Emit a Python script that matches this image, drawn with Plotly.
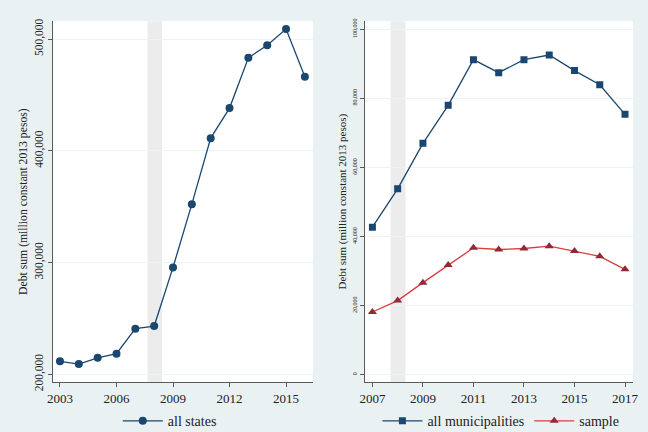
import plotly.graph_objects as go

# Left panel: all states
years_states = [2003, 2004, 2005, 2006, 2007, 2008, 2009, 2010, 2011, 2012, 2013, 2014, 2015, 2016]
debt_states = [211600, 209200, 214800, 218400, 240800, 243200, 295700, 352300, 411400, 438300, 483300, 494600, 509000, 466300]

# Right panel: municipalities
years_mun = [2007, 2008, 2009, 2010, 2011, 2012, 2013, 2014, 2015, 2016, 2017]
debt_all_mun = [42700, 53800, 66950, 77950, 91170, 87400, 91170, 92500, 88000, 83900, 75340]
debt_sample = [18150, 21450, 26650, 31750, 36730, 36240, 36530, 37200, 35800, 34270, 30500]

band_left = [2007.65, 2008.42]
band_right = [2007.72, 2008.31]

BG = "#E9F1F3"
NAVY = "#1a476f"
RED_LINE = "#dc3b3b"
RED_MARK = "#8e2b35"
FONT = "Liberation Serif"
ytitle = "Debt sum (million constant 2013 pesos)"

fig = go.Figure()

fig.add_trace(go.Scatter(x=years_states, y=debt_states, mode="lines+markers",
                         name="all states", xaxis="x", yaxis="y",
                         line=dict(color=NAVY, width=1.3),
                         marker=dict(color=NAVY, size=8, symbol="circle"),
                         legend="legend"))
fig.add_trace(go.Scatter(x=years_mun, y=debt_all_mun, mode="lines+markers",
                         name="all municipalities", xaxis="x2", yaxis="y2",
                         line=dict(color=NAVY, width=1.3),
                         marker=dict(color=NAVY, size=7, symbol="square"),
                         legend="legend2"))
fig.add_trace(go.Scatter(x=years_mun, y=debt_sample, mode="lines+markers",
                         name="sample", xaxis="x2", yaxis="y2",
                         line=dict(color=RED_LINE, width=1.3),
                         marker=dict(color=RED_MARK, size=8, symbol="triangle-up"),
                         legend="legend2"))

fig.add_shape(type="rect", xref="x", yref="y domain", x0=band_left[0], x1=band_left[1],
              y0=0, y1=1, fillcolor="#ececec", line=dict(width=0), layer="below")
fig.add_shape(type="rect", xref="x2", yref="y2 domain", x0=band_right[0], x1=band_right[1],
              y0=0, y1=1, fillcolor="#ececec", line=dict(width=0), layer="below")

axis_common = dict(showline=True, linecolor="#5a5a5a", linewidth=1, ticks="outside",
                   ticklen=4, tickcolor="#5a5a5a", zeroline=False, mirror=False)

fig.update_layout(
    width=648, height=432,
    margin=dict(l=0, r=0, t=0, b=0, autoexpand=False),
    paper_bgcolor=BG, plot_bgcolor="white",
    font=dict(family=FONT, color="#222222"),
    xaxis=dict(domain=[0.0818, 0.483], range=[2002.63, 2016.43],
               tickvals=[2003, 2006, 2009, 2012, 2015], showgrid=False,
               tickfont=dict(size=13), anchor="y", **axis_common),
    yaxis=dict(domain=[0.1157, 0.951], range=[193100, 516100],
               tickvals=[200000, 300000, 400000, 500000], tickformat=",d",
               tickangle=-90, tickfont=dict(size=11.5),
               showgrid=True, gridcolor="#eef3f4", gridwidth=1,
               title=dict(text=ytitle, font=dict(size=11.7), standoff=3),
               anchor="x", **axis_common),
    xaxis2=dict(domain=[0.563, 0.977], range=[2006.7, 2017.32],
                tickvals=[2007, 2009, 2011, 2013, 2015, 2017], showgrid=False,
                tickfont=dict(size=13), anchor="y2", **axis_common),
    yaxis2=dict(domain=[0.1157, 0.951], range=[-2100, 102300],
                tickvals=[0, 20000, 40000, 60000, 80000, 100000], tickformat=",d",
                tickangle=-90, tickfont=dict(size=6),
                showgrid=True, gridcolor="#eef3f4", gridwidth=1,
                title=dict(text=ytitle, font=dict(size=11), standoff=3),
                anchor="x2", **axis_common),
    legend=dict(orientation="h", x=0.262, xanchor="center", y=0.025, yanchor="middle",
                bgcolor="rgba(0,0,0,0)", font=dict(size=14), itemwidth=40),
    legend2=dict(orientation="h", x=0.773, xanchor="center", y=0.025, yanchor="middle",
                 bgcolor="rgba(0,0,0,0)", font=dict(size=14), itemwidth=40),
    showlegend=True,
)

fig.write_html("out.html")
